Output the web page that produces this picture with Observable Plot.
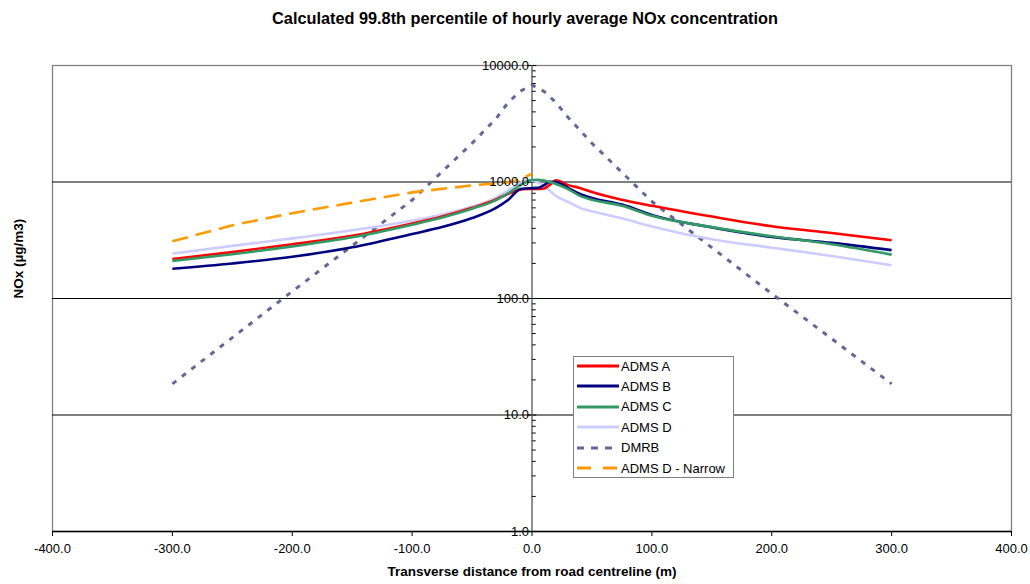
<!DOCTYPE html>
<html><head><meta charset="utf-8">
<script src="https://cdn.jsdelivr.net/npm/d3@7"></script>
<script src="https://cdn.jsdelivr.net/npm/@observablehq/plot@0.6"></script>
<style>
body{margin:0;background:#fff;font-family:"Liberation Sans",Arial,sans-serif;}
#wrap{position:relative;width:1030px;height:584px;overflow:hidden;}
#legend{position:absolute;left:573px;top:356px;width:161px;height:122px;border:1px solid #808080;background:#fff;box-sizing:border-box;}
#legend .row{position:absolute;left:3px;height:20px;display:flex;align-items:center;font-size:13px;color:#000;white-space:nowrap;}
#legend svg{display:block;margin-right:2px;}
</style></head>
<body><div id="wrap"><div id="legend"></div></div>
<script>
// ----- data -----
const seriesNames = ["ADMS A", "ADMS B", "ADMS C", "ADMS D", "DMRB", "ADMS D - Narrow"];
const seriesColors = ["#ff0000", "#000080", "#339966", "#ccccff", "#666699", "#ff9900"];
const seriesDash = [null, null, null, null, "5,7", "16,8"];

const admsX = [-300,-250,-200,-150,-100,-75,-50,-30,-20,-10,-5,0,5,10,15,20,30,40,50,75,100,150,200,250,300];
const admsA = [218,250,292,345,440,505,600,710,790,860,870,870,870,880,950,1035,940,890,820,705,625,505,417,365,316];
const admsB = [180,200,228,275,358,410,490,600,700,865,880,885,890,940,1005,1000,890,790,730,640,522,408,338,300,260];
const admsC = [210,240,280,335,430,495,590,700,800,935,1000,1040,1045,1030,1000,960,870,760,705,625,512,410,342,292,238];
const admsD = [243,283,328,385,465,525,615,735,845,975,1040,1030,990,930,840,760,675,600,560,488,415,322,273,232,193];

const dmrbX = [-300,-200,-100,-50,-30,-20,-10,0,10,20,30,50,100,200,300];
const dmrb  = [18.5,115,700,2150,3500,4800,6000,6800,6000,4800,3600,2150,680,110,18.5];

const narrowX = [-300,-250,-200,-150,-100,-50,-20,-10,0];
const narrow  = [310,425,540,665,815,936,993,1047,1180];

const xTicks = [-400,-300,-200,-100,0,100,200,300,400];
const yMajor = [1,10,100,1000,10000];
const yGrid = [10,100,1000];
const yMinor = [1,10,100,1000].flatMap(d => [2,3,4,5,6,7,8,9].map(k => k*d));

const titleText = "Calculated 99.8th percentile of hourly average NOx concentration";
const xTitle = "Transverse distance from road centreline (m)";
const yTitle = "NOx (µg/m3)";

// ----- build -----
const toRows = (xs, ys) => xs.map((x, i) => ({x, y: ys[i]}));
const allSeries = [
  toRows(admsX, admsA), toRows(admsX, admsB), toRows(admsX, admsC), toRows(admsX, admsD),
  toRows(dmrbX, dmrb), toRows(narrowX, narrow)
];
const drawOrder = [4, 5, 3, 0, 1, 2];
const lineMarks = drawOrder.map(i => Plot.line(allSeries[i], {
  x: "x", y: "y", stroke: seriesColors[i], strokeWidth: i === 4 ? 3 : 2.6,
  strokeDasharray: seriesDash[i] || undefined,
  curve: i < 4 ? "monotone-x" : "linear", strokeLinecap: "butt", strokeLinejoin: "round"
}));

const fmt = d => d.toFixed(1);
const chart = Plot.plot({
  width: 1030, height: 584,
  marginLeft: 52, marginRight: 19, marginTop: 65, marginBottom: 53,
  style: {fontFamily: "'Liberation Sans', Arial, sans-serif", fontSize: "13px", color: "#000", background: "#fff"},
  x: {domain: [-400, 400]},
  y: {type: "log", domain: [1, 10000]},
  marks: [
    Plot.frame({stroke: "#808080", strokeWidth: 1.3}),
    Plot.ruleY(yGrid, {stroke: "#000", strokeWidth: 1}),
    Plot.ruleY([1], {stroke: "#000", strokeWidth: 1.3}),
    Plot.axisX({ticks: xTicks, tickFormat: fmt, tickSize: 5, tickPadding: 7, fontSize: 13, label: null, stroke: "#000"}),
    Plot.axisY({ticks: [], label: null}),
    Plot.ruleY(yMinor, {x1: 0, x2: 3.5, stroke: "#000", strokeWidth: 1}),
    Plot.ruleY(yMajor, {x1: -3.5, x2: 4, stroke: "#000", strokeWidth: 1}),
    Plot.ruleX([0], {stroke: "#555", strokeWidth: 1.3}),
    ...lineMarks,
    Plot.text(yMajor, {x: 0, y: d => d, text: fmt, textAnchor: "end", dx: -3, fontSize: 13}),
    Plot.text([titleText], {frameAnchor: "top", dy: -53, dx: -7, fontWeight: "bold", fontSize: 16.3}),
    Plot.text([xTitle], {frameAnchor: "bottom", dy: 44, fontWeight: "bold", fontSize: 13.5}),
    Plot.text([yTitle], {frameAnchor: "left", dx: -34, rotate: -90, fontWeight: "bold", fontSize: 13.5})
  ]
});
document.getElementById("wrap").prepend(chart);

// legend
const legend = d3.select("#legend");
seriesNames.forEach((name, i) => {
  const row = legend.append("div").attr("class", "row").style("top", (-1 + i * 20.4) + "px");
  const svg = row.append("svg").attr("width", 42).attr("height", 6);
  svg.append("line").attr("x1", 0).attr("x2", 42).attr("y1", 3).attr("y2", 3)
    .attr("stroke", seriesColors[i]).attr("stroke-width", 3)
    .attr("stroke-dasharray", seriesDash[i] === "5,7" ? "7,7" : (seriesDash[i] ? "14,12" : null));
  row.append("span").text(name);
});
</script>
</body></html>
